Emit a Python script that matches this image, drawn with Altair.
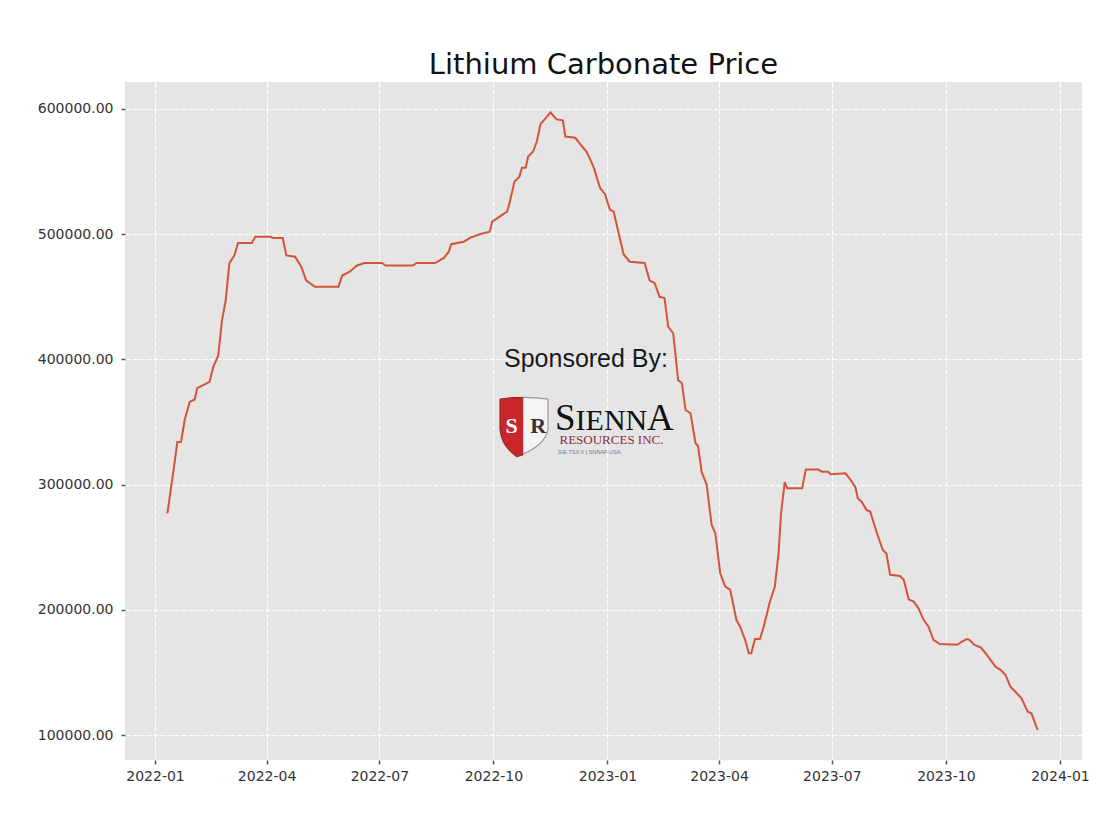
import altair as alt
import pandas as pd

# ---- data ----
dates = [
    "2022-01-11", "2022-01-14", "2022-01-16", "2022-01-19", "2022-01-22", "2022-01-25",
    "2022-01-29", "2022-02-02", "2022-02-04", "2022-02-14", "2022-02-17", "2022-02-21",
    "2022-02-24", "2022-02-27", "2022-03-02", "2022-03-06", "2022-03-09", "2022-03-20",
    "2022-03-23", "2022-04-04", "2022-04-06", "2022-04-14", "2022-04-17", "2022-04-24",
    "2022-04-29", "2022-05-03", "2022-05-10", "2022-05-29", "2022-06-01", "2022-06-07",
    "2022-06-13", "2022-06-19", "2022-07-03", "2022-07-06", "2022-07-28", "2022-07-31",
    "2022-08-15", "2022-08-22", "2022-08-26", "2022-08-28", "2022-09-07", "2022-09-13",
    "2022-09-20", "2022-09-28", "2022-09-30", "2022-10-06", "2022-10-12", "2022-10-14",
    "2022-10-18", "2022-10-22", "2022-10-24", "2022-10-27", "2022-10-29", "2022-11-02",
    "2022-11-05", "2022-11-08", "2022-11-12", "2022-11-16", "2022-11-18", "2022-11-21",
    "2022-11-26", "2022-11-28", "2022-12-06", "2022-12-10", "2022-12-15", "2022-12-18",
    "2022-12-21", "2022-12-26", "2022-12-30", "2023-01-03", "2023-01-06", "2023-01-14",
    "2023-01-19", "2023-01-31", "2023-02-04", "2023-02-08", "2023-02-12", "2023-02-16",
    "2023-02-19", "2023-02-23", "2023-02-27", "2023-03-02", "2023-03-05", "2023-03-09",
    "2023-03-13", "2023-03-15", "2023-03-18", "2023-03-22", "2023-03-26", "2023-03-29",
    "2023-04-02", "2023-04-06", "2023-04-10", "2023-04-15", "2023-04-18", "2023-04-22",
    "2023-04-25", "2023-04-27", "2023-04-30", "2023-05-04", "2023-05-07", "2023-05-12",
    "2023-05-16", "2023-05-19", "2023-05-21", "2023-05-24", "2023-05-26", "2023-06-07",
    "2023-06-10", "2023-06-20", "2023-06-23", "2023-06-28", "2023-06-30", "2023-07-12",
    "2023-07-16", "2023-07-20", "2023-07-22", "2023-07-25", "2023-07-29", "2023-08-01",
    "2023-08-06", "2023-08-11", "2023-08-14", "2023-08-17", "2023-08-25", "2023-08-28",
    "2023-09-01", "2023-09-05", "2023-09-09", "2023-09-13", "2023-09-17", "2023-09-21",
    "2023-09-26", "2023-10-10", "2023-10-14", "2023-10-18", "2023-10-20", "2023-10-24",
    "2023-10-29", "2023-11-02", "2023-11-06", "2023-11-10", "2023-11-14", "2023-11-18",
    "2023-11-22", "2023-11-26", "2023-12-01", "2023-12-06", "2023-12-09", "2023-12-14",
]
prices = [
    277000, 298000, 312000, 334000, 334000, 352000,
    366000, 368000, 377000, 382000, 394000, 403000,
    431000, 447000, 477000, 483000, 493000, 493000,
    498000, 498000, 497000, 497000, 483000, 482000,
    474000, 463000, 458000, 458000, 467000, 470000,
    475000, 477000, 477000, 475000, 475000, 477000,
    477000, 481000, 486000, 492000, 494000, 497500,
    500000, 502000, 510000, 514000, 518000, 525000,
    542000, 546000, 553000, 553000, 562000, 566000,
    574000, 588000, 592500, 597400, 595000, 591700,
    591000, 578000, 577000, 572000, 566000, 560000,
    553000, 537000, 532000, 519500, 518000, 484000,
    478000, 477000, 463000, 461000, 450000, 449000,
    426000, 421000, 383500, 381000, 359600, 357000,
    333000, 331000, 310000, 300000, 268000, 261000,
    229000, 218500, 216000, 192000, 186500, 176000,
    165300, 165300, 176700, 176700, 186500, 206500,
    218500, 245000, 277000, 302000, 297000, 297000,
    312000, 312000, 310300, 310300, 308200, 309000,
    304000, 298000, 289000, 286300, 279700, 278300,
    262300, 248000, 245000, 228000, 227000, 224000,
    208400, 206500, 201000, 192000, 186500, 176000,
    172700, 172000, 174500, 176700, 176000, 172000,
    170000, 165300, 160000, 154600, 152000, 148000,
    138600, 134600, 129300, 118600, 117300, 104000,
]
y_ticks = [100000, 200000, 300000, 400000, 500000, 600000]
x_tick_years = [2022, 2022, 2022, 2022, 2023, 2023, 2023, 2023, 2024]
x_tick_months = [1, 4, 7, 10, 1, 4, 7, 10, 1]

title_text = "Lithium Carbonate Price"
sponsor_text = "Sponsored By:"
logo_big = ["S", "IENN", "A"]
logo_sub = "RESOURCES INC."
logo_small = "SIE-TSX.V | SNNAF-USA"

df = pd.DataFrame({"date": dates, "price": prices})

W, H = 957, 678

x_enc = alt.X(
    "date:T",
    scale=alt.Scale(
        type="utc",
        domain=[
            alt.DateTime(year=2021, month=12, date=7, hours=19, utc=True),
            alt.DateTime(year=2024, month=1, date=18, hours=19, utc=True),
        ],
        nice=False,
    ),
    axis=alt.Axis(
        values=[alt.DateTime(year=y, month=m, date=1, utc=True)
                for y, m in zip(x_tick_years, x_tick_months)],
        format="%Y-%m",
        title=None,
        grid=True,
        gridColor="white",
        gridDash=[5, 2],
        gridWidth=1,
        domain=False,
        ticks=True,
        tickSize=4,
        tickWidth=1.5,
        tickColor="#555555",
        labelPadding=5,
        labelFont="DejaVu Sans",
        labelFontSize=14,
        labelColor="#333333",
    ),
)
y_enc = alt.Y(
    "price:Q",
    scale=alt.Scale(domain=[80032, 621565], nice=False, zero=False),
    axis=alt.Axis(
        values=y_ticks,
        format=".2f",
        title=None,
        grid=True,
        gridColor="white",
        gridDash=[5, 2],
        gridWidth=1,
        domain=False,
        ticks=True,
        tickSize=4,
        tickWidth=1.5,
        tickColor="#555555",
        labelPadding=8,
        labelFont="DejaVu Sans",
        labelFontSize=14,
        labelColor="#333333",
    ),
)

line = alt.Chart(df).mark_line(color="#D4533A", strokeWidth=2).encode(x=x_enc, y=y_enc)

one = pd.DataFrame({"k": [0]})

sponsor = alt.Chart(one).mark_text(
    text=sponsor_text, font="Liberation Sans", fontSize=25, color="#1a1a1a",
    align="center", baseline="alphabetic",
).encode(x=alt.value(461), y=alt.value(284.5))

shield_full = "M -1 -1.05 Q 0 -1.2 1 -1.05 L 1 0.2 Q 0.9 0.9 -0.3 1.35 Q -0.95 0.9 -1 0.2 Z"
shield_left = "M -1 -1.05 Q -0.5 -1.15 -0.05 -1.12 L -0.05 1.28 Q -0.2 1.32 -0.3 1.35 Q -0.95 0.9 -1 0.2 Z"

shield_bg = alt.Chart(one).mark_point(
    shape=shield_full, size=2304, filled=True, fill="#f4f4f4",
    stroke="#9a9a9a", strokeWidth=1.2, opacity=1,
).encode(x=alt.value(399), y=alt.value(342.4))
shield_red = alt.Chart(one).mark_point(
    shape=shield_left, size=2304, filled=True, fill="#c8262a",
    stroke="#8e1b1e", strokeWidth=0.8, opacity=1,
).encode(x=alt.value(399), y=alt.value(342.4))

letter_s = alt.Chart(one).mark_text(
    text="S", font="Liberation Serif", fontWeight="bold", fontSize=22,
    color="white", align="center", baseline="alphabetic",
).encode(x=alt.value(386.7), y=alt.value(351.3))
letter_r = alt.Chart(one).mark_text(
    text="R", font="Liberation Serif", fontWeight="bold", fontSize=22,
    color="#333333", align="center", baseline="alphabetic",
).encode(x=alt.value(413.3), y=alt.value(351.3))

big_s = alt.Chart(one).mark_text(
    text=logo_big[0], font="Liberation Serif", fontSize=37, color="#111111",
    align="left", baseline="alphabetic",
).encode(x=alt.value(430), y=alt.value(348))
mid = alt.Chart(one).mark_text(
    text=logo_big[1], font="Liberation Serif", fontSize=30, color="#111111",
    align="left", baseline="alphabetic",
).encode(x=alt.value(450.6), y=alt.value(348))
big_a = alt.Chart(one).mark_text(
    text=logo_big[2], font="Liberation Serif", fontSize=37, color="#111111",
    align="left", baseline="alphabetic",
).encode(x=alt.value(522), y=alt.value(348))
sub = alt.Chart(one).mark_text(
    text=logo_sub, font="Liberation Serif", fontSize=13, color="#8b2f33",
    align="center", baseline="alphabetic",
).encode(x=alt.value(486.5), y=alt.value(361.8))
small = alt.Chart(one).mark_text(
    text=logo_small, font="Liberation Sans", fontSize=5.5, color="#777777",
    align="left", baseline="alphabetic",
).encode(x=alt.value(432.7), y=alt.value(372))

chart = alt.layer(
    line, sponsor, shield_bg, shield_red, letter_s, letter_r, big_s, mid, big_a, sub, small
).properties(
    width=W,
    height=H,
    title=alt.TitleParams(
        title_text, font="DejaVu Sans", fontSize=29, fontWeight="normal",
        color="#111111", anchor="middle", baseline="bottom", offset=1, dy=28,
    ),
    autosize=alt.AutoSizeParams(type="none"),
    padding={"left": 117, "top": 74, "right": 20, "bottom": 50},
    background="white",
).configure_view(fill="#E5E5E5", stroke=None)

chart.save("out.html", embed_options={"renderer": "svg", "actions": False})
